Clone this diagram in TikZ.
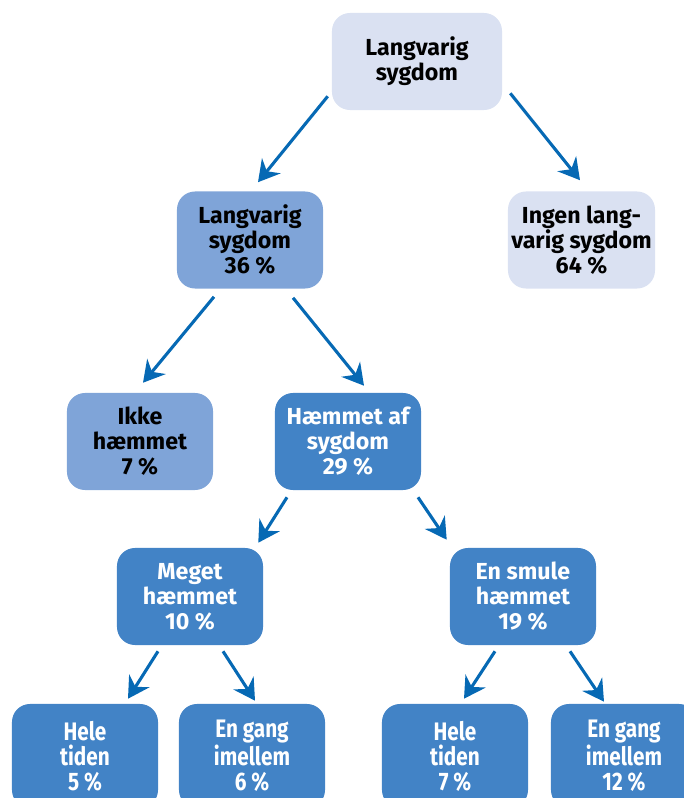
\documentclass[tikz,border=0pt]{standalone}
\usepackage{fontspec}
\setmainfont{Fira Sans}
\newfontfamily\narrowfont[FakeStretch=0.82]{Fira Sans}
\usetikzlibrary{positioning,calc,arrows.meta}
\definecolor{palebox}{HTML}{DAE1F2}
\definecolor{midbox}{HTML}{7FA4D8}
\definecolor{deepbox}{HTML}{4283C6}
\definecolor{arrowblue}{HTML}{0669B4}
\tikzset{
  box/.style={rounded corners=0.45cm,inner sep=0pt,align=center,
    minimum width=3.65cm,minimum height=2.425cm,
    font=\bfseries\fontsize{16.5}{17.8}\selectfont},
  palenode/.style={box,fill=palebox,text=black},
  midnode/.style={box,fill=midbox,text=black},
  deepnode/.style={box,fill=deepbox,text=white},
  lownode/.style={deepnode,minimum height=2.6cm,
    font=\narrowfont\bfseries\fontsize{18}{17.8}\selectfont},
  arr/.style={draw=arrowblue,line width=2.2pt,
    -{Stealth[length=15pt,width=17pt,inset=5pt]}}
}

\begin{document}
\begin{tikzpicture}[x=0.025cm,y=-0.025cm]
  \useasboundingbox (0,0) rectangle (684,798);
  \clip (0,0) rectangle (684,798);
  % level 0 and 1
  \node[palenode,minimum width=4.25cm] (top) at (417,61.5) {Langvarig\\sygdom};
  \node[midnode] (sick) at (250,240) {Langvarig\\sygdom\\36 \%};
  \node[palenode,minimum width=3.675cm] (well) at (581.5,240) {Ingen lang-\\varig sygdom\\64 \%};
  % level 2
  \node[midnode] (free) at (140,441.5) {Ikke\\hæmmet\\7 \%};
  \node[deepnode] (hit) at (348,441.5) {Hæmmet af\\sygdom\\29 \%};
  % level 3
  \node[deepnode] (much) at (190,596.5) {Meget\\hæmmet\\10 \%};
  \node[deepnode] (bit) at (523,596.5) {En smule\\hæmmet\\19 \%};
  % level 4, cut off by the lower edge
  \node[lownode] (muchall) at (85,756) {Hele\\tiden\\5 \%};
  \node[lownode] (muchsome) at (252,756) {En gang\\imellem\\6 \%};
  \node[lownode] (bitall) at (455,756) {Hele\\tiden\\7 \%};
  \node[lownode] (bitsome) at (624,756) {En gang\\imellem\\12 \%};
  % arrows
  \draw[arr] ($(top.south west)+(-4,-14)$) -- ($(sick.north)+(8,-9)$);
  \draw[arr] ($(top.south east)+(8,-17)$) -- ($(well.north)+(-1.5,-11)$);
  \draw[arr] ($(sick.south)+(-36,8)$) -- ($(free.north)+(3,-10)$);
  \draw[arr] ($(sick.south)+(43,9)$) -- ($(hit.north)+(16,-7)$);
  \draw[arr] ($(hit.south)+(-61,7)$) -- ($(much.north east)+(-5,-5)$);
  \draw[arr] ($(hit.south)+(70,7)$) -- ($(bit.north west)+(-3,-8)$);
  \draw[arr] ($(much.south)+(-32,6)$) -- ($(muchall.north)+(43,-5)$);
  \draw[arr] ($(much.south)+(33,6)$) -- ($(muchsome.north)+(3,-3)$);
  \draw[arr] ($(bit.south)+(-28,6)$) -- ($(bitall.north)+(9,-5)$);
  \draw[arr] ($(bit.south)+(47,6)$) -- ($(bitsome.north)+(-20,-2)$);
\end{tikzpicture}
\end{document}
